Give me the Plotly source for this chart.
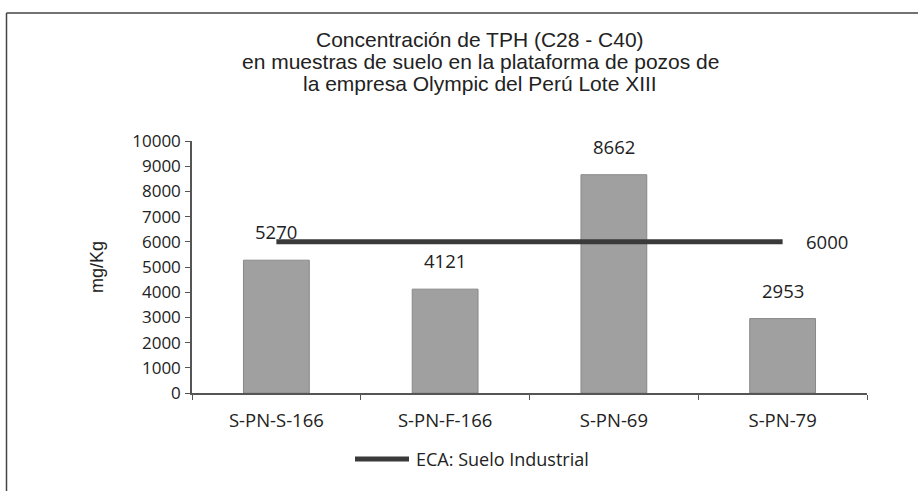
import plotly.graph_objects as go

categories = ["S-PN-S-166", "S-PN-F-166", "S-PN-69", "S-PN-79"]
tph_values = [5270, 4121, 8662, 2953]
eca_values = [6000, 6000, 6000, 6000]
eca_name = "ECA: Suelo Industrial"
y_ticks = [0, 1000, 2000, 3000, 4000, 5000, 6000, 7000, 8000, 9000, 10000]
title_lines = [
    "Concentración de TPH (C28 - C40)",
    "en muestras de suelo en la plataforma de pozos de",
    "la empresa Olympic del Perú Lote XIII",
]

W, H = 918, 491
L, R, T, B = 192, 51, 141, 98
PW, PH = W - L - R, H - T - B

def px_x(px):
    return (px - L) / PW

def px_y(py):
    return (H - B - py) / PH

tick_font = dict(family="Open Sans", size=17, color="#222")

fig = go.Figure()
fig.add_trace(go.Bar(
    x=categories, y=tph_values, name="TPH",
    marker=dict(color="#a0a0a0", line=dict(color="#888888", width=1)),
    showlegend=False,
))
fig.add_trace(go.Scatter(
    x=categories, y=eca_values, name=eca_name, mode="lines",
    line=dict(color="#3a3a3a", width=5),
    showlegend=False,
))

annotations = []
for c, v in zip(categories, tph_values):
    annotations.append(dict(
        x=c, y=v, xref="x", yref="y", text=str(v), showarrow=False,
        yanchor="bottom", yshift=14,
        font=dict(family="Open Sans", size=18.5, color="#222"),
    ))
annotations.append(dict(
    x=categories[-1], y=eca_values[-1], xref="x", yref="y",
    text=str(eca_values[-1]), showarrow=False,
    xanchor="left", yanchor="middle", xshift=21,
    font=dict(family="Open Sans", size=18.5, color="#222"),
))
for line, cy in zip(title_lines, [39.5, 61.5, 83.5]):
    annotations.append(dict(
        x=px_x(480), y=px_y(cy), xref="paper", yref="paper", text=line,
        showarrow=False, xanchor="center", yanchor="middle",
        font=dict(family="Liberation Sans", size=21, color="#222"),
    ))
annotations.append(dict(
    x=px_x(97), y=px_y(267), xref="paper", yref="paper", text="mg/Kg",
    showarrow=False, textangle=-90, xanchor="center", yanchor="middle",
    font=dict(family="Liberation Sans", size=18, color="#222"),
))
annotations.append(dict(
    x=px_x(414), y=px_y(459), xref="paper", yref="paper", text=eca_name,
    showarrow=False, xanchor="left", yanchor="middle",
    font=dict(family="Open Sans", size=18, color="#222"),
))

shapes = [
    dict(type="line", xref="paper", yref="paper",
         x0=px_x(355), x1=px_x(409), y0=px_y(459), y1=px_y(459),
         line=dict(color="#3a3a3a", width=5)),
    dict(type="line", xref="paper", yref="paper",
         x0=px_x(6.5), x1=px_x(W + 5), y0=px_y(13), y1=px_y(13),
         line=dict(color="#444", width=1.5)),
    dict(type="line", xref="paper", yref="paper",
         x0=px_x(6.5), x1=px_x(6.5), y0=px_y(13), y1=px_y(H + 5),
         line=dict(color="#444", width=1.5)),
]

fig.update_layout(
    width=W, height=H,
    margin=dict(l=L, r=R, t=T, b=B),
    paper_bgcolor="white", plot_bgcolor="white",
    bargap=0.61,
    annotations=annotations,
    shapes=shapes,
    showlegend=False,
    xaxis=dict(
        showline=True, linecolor="#555", linewidth=1.5,
        ticks="outside", tickson="boundaries", ticklen=5, tickcolor="#555",
        tickfont=dict(family="Open Sans", size=18.5, color="#222"),
        showgrid=False, ticklabelstandoff=10,
    ),
    yaxis=dict(
        range=[0, 10000], tickvals=y_ticks, ticktext=[str(t) for t in y_ticks],
        showline=True, linecolor="#555", linewidth=1.5,
        ticks="outside", ticklen=5, tickcolor="#555",
        tickfont=tick_font, showgrid=False, zeroline=False,
        ticklabelstandoff=1,
    ),
)

fig.write_html(
    "out.html",
    config={"displayModeBar": False},
    post_script="document.body.style.margin='0';document.body.style.overflow='hidden';",
)
